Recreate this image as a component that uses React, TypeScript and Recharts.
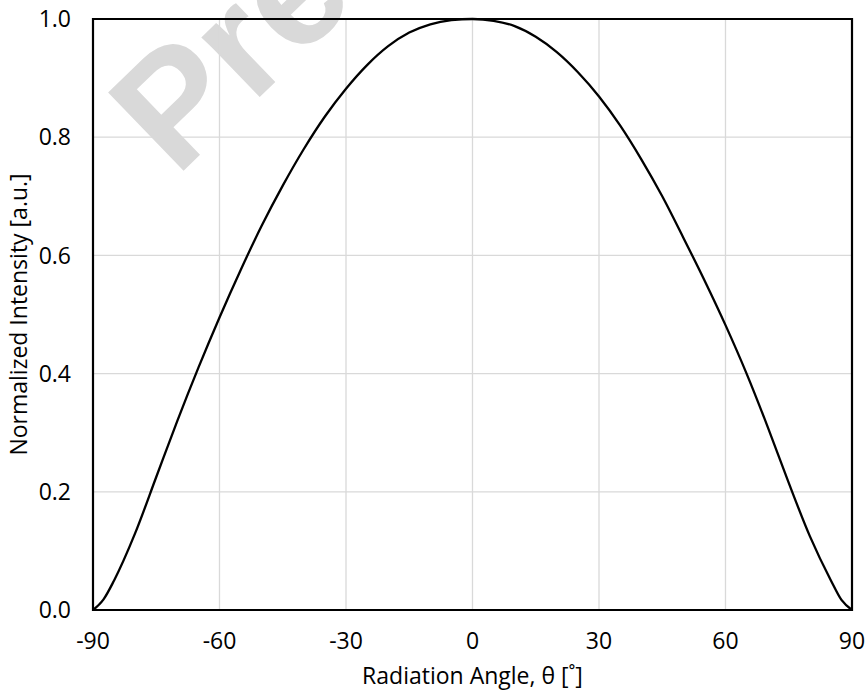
import React from 'react';
import { ComposedChart, Line, XAxis, YAxis, CartesianGrid, ReferenceArea, Label } from 'recharts';

const angles = [-90, -87.5, -85, -80, -75, -70, -65, -60, -55, -50, -45, -40, -35, -30, -25, -20, -15, -10, -5, 0, 5, 10, 15, 20, 25, 30, 35, 40, 45, 50, 55, 60, 65, 70, 75, 80, 85, 87.5, 90];
const intensity = [0.0, 0.018, 0.05, 0.13, 0.225, 0.32, 0.41, 0.495, 0.575, 0.65, 0.718, 0.78, 0.835, 0.882, 0.922, 0.954, 0.977, 0.991, 0.998, 1.0, 0.997, 0.988, 0.97, 0.944, 0.91, 0.869, 0.82, 0.763, 0.7, 0.63, 0.558, 0.482, 0.4, 0.31, 0.215, 0.125, 0.05, 0.017, 0.0];
const xTicks = [-90, -60, -30, 0, 30, 60, 90];
const yTicks = [0, 0.2, 0.4, 0.6, 0.8, 1.0];
const xTitle = 'Radiation Angle, θ [˚]';
const yTitle = 'Normalized Intensity [a.u.]';
const watermark = 'Preliminary';

const data = angles.map((a, i) => ({ angle: a, value: intensity[i] }));

const FONT = '"Open Sans", sans-serif';
const FS = 23;

const YTitle = (props: any) => {
  const vb = props.viewBox || { x: 0, y: 19, width: 93, height: 591 };
  const cx = 18;
  const cy = vb.y + vb.height / 2;
  return (
    <text
      x={cx}
      y={cy}
      transform={`rotate(-90 ${cx} ${cy})`}
      textAnchor="middle"
      dominantBaseline="central"
      fill="#000"
      fontSize={FS}
      fontFamily={FONT}
    >
      {yTitle}
    </text>
  );
};

export default function App() {
  return (
    <div style={{ position: 'absolute', left: 0, top: 0, width: 867, height: 694, background: '#fff' }}>
      <svg width={867} height={694} style={{ position: 'absolute', left: 0, top: 0 }}>
        <text
          x={176}
          y={178}
          transform="rotate(-44 176 178)"
          fontFamily='"Liberation Sans", Arial, sans-serif'
          fontWeight="bold"
          fontSize={158}
          fill="#d9d9d9"
        >
          {watermark}
        </text>
      </svg>
      <div style={{ position: 'absolute', left: 0, top: 0 }}>
        <ComposedChart width={867} height={694} data={data} margin={{ top: 19, right: 15, left: 0, bottom: 0 }}>
          <CartesianGrid stroke="#d9d9d9" strokeWidth={1.3} verticalValues={xTicks} horizontalValues={yTicks} />
          <XAxis
            type="number"
            dataKey="angle"
            domain={[-90, 90]}
            ticks={xTicks}
            height={84}
            axisLine={false}
            tickLine={false}
            tickSize={0}
            tickMargin={23}
            tick={{ fill: '#000', fontSize: FS, fontFamily: FONT }}
            label={{ value: xTitle, position: 'insideBottom', offset: 10, fill: '#000', fontSize: FS, fontFamily: FONT }}
          />
          <YAxis
            type="number"
            domain={[0, 1]}
            ticks={yTicks}
            width={93}
            axisLine={false}
            tickLine={false}
            tickSize={0}
            tickMargin={22}
            tickFormatter={(v: number) => v.toFixed(1)}
            tick={{ fill: '#000', fontSize: FS, fontFamily: FONT }}
          >
            <Label content={<YTitle />} />
          </YAxis>
          <ReferenceArea x1={-90} x2={90} y1={0} y2={1} fill="none" fillOpacity={0} stroke="#000" strokeWidth={2.2} ifOverflow="visible" />
          <Line type="monotone" dataKey="value" stroke="#000" strokeWidth={2.3} dot={false} isAnimationActive={false} />
        </ComposedChart>
      </div>
    </div>
  );
}
